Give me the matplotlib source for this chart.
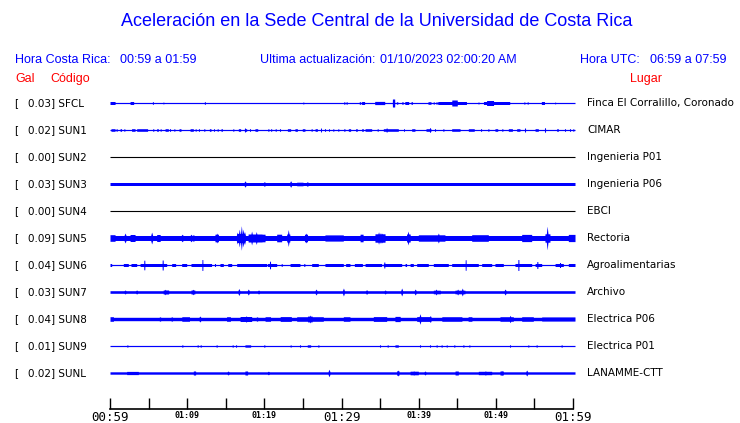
import numpy as np
import matplotlib
matplotlib.use("Agg")
import matplotlib.pyplot as plt

W, H = 740, 423
BLUE = "#0000ff"
RED = "#ff0000"

codes = ["SFCL", "SUN1", "SUN2", "SUN3", "SUN4", "SUN5", "SUN6", "SUN7", "SUN8", "SUN9", "SUNL"]
gal = [0.03, 0.02, 0.00, 0.03, 0.00, 0.09, 0.04, 0.03, 0.04, 0.01, 0.02]
places = ["Finca El Corralillo, Coronado", "CIMAR", "Ingenieria P01", "Ingenieria P06", "EBCI",
          "Rectoria", "Agroalimentarias", "Archivo", "Electrica P06", "Electrica P01", "LANAMME-CTT"]

# background half-amplitude of each trace (pixel-like units)
base_amp = [0.6, 0.6, 0.45, 1.5, 0.45, 2.5, 0.6, 1.3, 1.7, 0.6, 1.2]

# bursts: (start minute, end minute, half-amplitude)
ev_SFCL = [(0.0, 0.65, 1.5), (2.6, 3.07, 1.5), (5.5, 5.62, 1.3), (6.88, 6.95, 0.9), (12.25, 12.35, 1.3),
           (25.0, 25.1, 1.0), (30.33, 30.4, 1.3), (30.63, 30.7, 1.3), (32.3, 32.5, 1.3), (32.6, 33.0, 1.5),
           (34.3, 35.6, 1.6), (36.6, 36.9, 4.0), (37.1, 37.3, 1.2), (37.8, 38.0, 1.2), (38.2, 38.7, 1.5),
           (39.0, 39.2, 1.3), (41.2, 41.6, 1.3), (41.9, 42.0, 1.2), (42.2, 42.5, 1.0), (42.5, 46.2, 1.5),
           (44.3, 45.0, 3.0), (47.7, 47.8, 1.0), (48.4, 51.8, 1.5), (48.8, 49.7, 2.5), (53.65, 53.75, 1.2),
           (54.08, 54.18, 1.2), (55.9, 56.3, 1.5), (57.65, 57.72, 0.9)]
ev_SUN1 = [(0.13, 0.65, 1.3), (0.82, 0.9, 1.3), (1.3, 1.5, 1.3), (1.82, 1.9, 1.3), (2.8, 3.24, 1.3),
           (3.46, 4.88, 1.3), (5.57, 5.65, 1.3), (6.05, 6.26, 1.3), (6.53, 6.6, 1.3), (7.13, 7.56, 1.3),
           (7.74, 7.82, 1.3), (8.3, 8.38, 1.3), (8.94, 9.2, 1.3), (10.37, 10.8, 1.3), (11.06, 11.14, 1.3),
           (11.49, 11.57, 1.3), (12.18, 12.26, 1.3), (12.87, 13.09, 1.3), (13.44, 13.52, 1.3),
           (13.91, 13.99, 1.3), (14.38, 14.56, 1.3), (15.94, 16.02, 1.3), (16.63, 16.93, 1.3),
           (17.41, 17.71, 1.3), (17.45, 17.53, 2.0), (18.1, 18.18, 1.3), (18.79, 19.14, 1.3),
           (20.48, 20.56, 1.3), (20.82, 20.95, 1.3), (21.43, 21.51, 1.3), (21.99, 22.07, 1.3),
           (22.98, 23.41, 1.3), (23.97, 24.28, 1.3), (24.92, 25.27, 1.3), (26.09, 26.17, 1.3),
           (26.57, 26.87, 1.3), (27.3, 27.38, 2.0), (27.82, 27.9, 1.3), (28.34, 28.42, 1.3),
           (28.9, 28.98, 1.3), (29.55, 29.63, 1.3), (30.3, 30.45, 1.3), (30.89, 31.19, 1.3),
           (31.84, 32.05, 1.3), (32.61, 32.83, 1.3), (33.05, 33.91, 1.3), (34.65, 34.73, 1.3),
           (35.42, 37.37, 1.3), (35.8, 35.9, 2.0), (38.06, 38.14, 1.3), (39.09, 39.52, 1.3),
           (40.95, 41.6, 1.3), (41.43, 41.51, 2.2), (42.08, 42.16, 1.3), (43.16, 43.24, 1.3),
           (44.28, 45.36, 1.3), (46.44, 47.21, 1.3), (48.04, 48.12, 1.3), (48.99, 49.07, 1.3),
           (49.89, 50.24, 1.3), (50.8, 50.88, 1.3), (51.62, 52.14, 1.3), (52.7, 53.13, 1.3),
           (53.74, 53.82, 2.0), (55.08, 55.51, 1.3), (56.33, 56.41, 2.2), (57.88, 58.1, 1.3),
           (58.92, 59.0, 1.3), (59.57, 59.65, 1.3), (60.0, 60.08, 1.3)]
ev_SUN2 = [(8.0, 8.06, 0.9), (17.47, 17.53, 0.9), (35.6, 35.66, 0.9)]
ev_SUN3 = [(17.45, 17.55, 3.2), (19.95, 20.05, 2.3), (23.36, 23.46, 3.3), (24.2, 25.0, 1.8),
           (25.52, 25.62, 2.3)]
ev_SUN4 = []
ev_SUN5 = [(0.0, 0.65, 3.3), (1.9, 2.0, 5.0), (2.6, 3.24, 3.5), (5.35, 5.45, 6.0), (6.05, 6.5, 3.5),
           (9.3, 9.4, 3.8), (10.45, 10.55, 3.8), (10.75, 10.85, 3.3), (13.6, 14.05, 3.8),
           (13.78, 13.88, 5.0), (16.4, 17.5, 4.5), (16.45, 16.55, 6.0), (16.7, 16.8, 9.0),
           (16.97, 17.07, 12.5), (17.2, 17.3, 9.0), (17.38, 17.48, 6.5), (17.9, 19.7, 4.0),
           (18.3, 18.4, 7.0), (18.9, 19.0, 6.5), (19.65, 20.1, 3.8), (21.6, 22.25, 3.8),
           (22.9, 23.3, 4.0), (23.05, 23.15, 8.5), (25.2, 25.6, 3.8), (25.35, 25.45, 5.0),
           (27.86, 30.24, 3.1), (32.4, 32.8, 3.8), (34.34, 35.64, 4.2), (34.75, 34.85, 6.3),
           (35.0, 35.1, 5.5), (35.2, 35.3, 5.0), (38.44, 38.9, 4.0), (38.57, 38.67, 7.0),
           (39.96, 43.41, 3.2), (42.5, 42.6, 5.0), (46.87, 49.03, 3.3), (53.35, 54.64, 3.6),
           (56.37, 57.02, 4.2), (56.6, 56.7, 12.0), (59.4, 60.26, 3.6)]
ev_SUN6 = [(0.0, 0.22, 1.5), (1.73, 2.38, 1.5), (2.72, 3.46, 1.5), (3.89, 7.34, 1.5), (4.4, 4.5, 4.8),
           (6.78, 6.88, 5.0), (7.99, 8.51, 1.5), (9.29, 9.94, 1.5), (10.5, 13.17, 1.5), (11.92, 12.02, 5.5),
           (13.57, 13.65, 1.5), (14.25, 14.69, 1.5), (15.25, 15.77, 1.5), (16.41, 20.3, 1.5),
           (20.39, 21.6, 1.5), (20.68, 20.78, 3.8), (22.21, 22.29, 1.5), (23.33, 24.62, 1.5),
           (25.14, 25.22, 1.5), (26.13, 27.0, 1.5), (27.86, 30.24, 1.5), (30.54, 31.1, 1.5),
           (31.66, 32.7, 1.5), (33.05, 35.21, 1.5), (35.42, 37.8, 1.5), (35.5, 35.6, 3.0),
           (38.23, 38.44, 1.5), (38.88, 39.31, 1.5), (39.74, 41.25, 1.5), (41.9, 43.84, 1.5),
           (44.28, 47.73, 1.5), (46.04, 46.14, 5.3), (48.16, 49.46, 1.5), (49.89, 50.97, 1.5),
           (52.48, 54.64, 1.5), (52.87, 52.97, 5.5), (55.08, 55.94, 1.5), (55.33, 55.43, 3.5),
           (57.67, 58.75, 1.5), (58.27, 58.37, 2.5), (59.4, 60.26, 1.5)]
ev_SUN7 = [(1.9, 2.0, 2.0), (3.4, 3.5, 2.0), (6.9, 7.6, 2.0), (7.1, 7.2, 2.8), (10.5, 11.0, 2.0),
           (10.7, 10.8, 2.8), (16.65, 16.75, 3.5), (17.87, 17.97, 3.0), (19.2, 19.3, 2.0),
           (26.65, 26.75, 3.0), (30.2, 30.3, 4.0), (33.2, 33.3, 2.3), (35.6, 35.7, 2.0),
           (37.75, 37.85, 4.0), (39.5, 39.6, 3.0), (41.9, 42.8, 1.8), (42.2, 42.3, 3.0),
           (44.7, 46.0, 1.8), (45.0, 45.1, 3.0), (45.6, 45.7, 4.0), (51.15, 51.25, 3.0)]
ev_SUN8 = [(0.0, 0.45, 2.3), (6.4, 6.55, 2.3), (7.95, 8.05, 2.3), (9.3, 10.3, 2.3), (11.6, 11.7, 3.0),
           (15.1, 15.6, 2.3), (16.85, 18.36, 2.5), (17.6, 17.7, 3.3), (19.0, 19.1, 2.3),
           (20.1, 20.8, 2.3), (22.05, 23.5, 2.4), (24.2, 27.65, 2.3), (25.6, 26.2, 2.9),
           (25.85, 25.95, 4.0), (30.24, 31.1, 2.3), (34.13, 35.85, 2.4), (36.93, 37.6, 2.6),
           (39.74, 41.5, 2.4), (40.12, 40.22, 5.3), (41.45, 41.55, 3.5), (43.0, 45.6, 2.3),
           (46.4, 46.9, 2.3), (50.54, 52.27, 2.3), (51.8, 51.9, 3.7), (53.35, 54.86, 2.3),
           (55.94, 60.26, 2.1)]
ev_SUN9 = [(2.22, 2.28, 1.2), (9.34, 9.4, 1.2), (11.33, 11.39, 1.2), (11.72, 11.78, 1.2),
           (13.79, 13.85, 1.2), (15.87, 15.93, 1.2), (16.3, 16.36, 1.2), (17.49, 18.23, 1.2),
           (19.97, 20.03, 1.2), (23.38, 23.44, 1.2), (24.59, 24.65, 1.2), (25.57, 26.0, 1.2),
           (26.97, 27.03, 1.2), (34.96, 35.02, 1.2), (35.95, 36.01, 1.2), (36.93, 37.37, 1.2),
           (40.14, 40.2, 1.2), (41.44, 41.5, 1.2), (42.3, 42.36, 1.2), (42.95, 43.01, 1.2),
           (43.6, 43.66, 1.2), (44.59, 44.65, 1.2), (45.76, 45.82, 1.2), (46.54, 46.6, 1.2),
           (51.81, 51.87, 1.2), (54.18, 54.24, 1.2), (55.26, 55.32, 1.2), (58.5, 58.56, 1.2)]
ev_SUNL = [(2.16, 3.67, 1.6), (10.8, 11.1, 2.0), (15.25, 15.35, 2.0), (17.49, 17.84, 2.0),
           (20.48, 20.56, 1.8), (28.33, 28.43, 3.8), (37.15, 37.45, 2.2), (37.25, 37.35, 3.0),
           (38.88, 39.96, 1.8), (39.3, 39.4, 2.3), (40.78, 40.86, 2.0), (44.71, 45.14, 2.0),
           (47.73, 49.46, 1.7), (48.6, 48.7, 2.3), (50.54, 50.97, 2.0), (50.7, 50.8, 2.5),
           (53.95, 54.05, 3.0)]

events = [ev_SFCL, ev_SUN1, ev_SUN2, ev_SUN3, ev_SUN4, ev_SUN5, ev_SUN6, ev_SUN7, ev_SUN8, ev_SUN9, ev_SUNL]

tick_minutes = [0, 10, 20, 30, 40, 50, 60]
tick_labels = ["00:59", "01:09", "01:19", "01:29", "01:39", "01:49", "01:59"]
minor_minutes = [5, 15, 25, 35, 45, 55]

# drawing style per trace
tapered = {"SUN3", "SUN5", "SUN7", "SUN8", "SUNL"}
flat_dark = {"SUN2", "SUN4"}

fig = plt.figure(figsize=(W / 100, H / 100), dpi=100)
fig.patch.set_facecolor("white")

ax_left, ax_right, ax_top, ax_bot = 110, 573, 95, 409
ax = fig.add_axes([ax_left / W, (H - ax_bot) / H, (ax_right - ax_left) / W, (ax_bot - ax_top) / H])
row_px = 27.0
ylim_bottom = 10 + (ax_bot - (103 + 270)) / row_px
ylim_top = -(103 - ax_top) / row_px
ax.set_xlim(0, 60)
ax.set_ylim(ylim_bottom, ylim_top)

t = np.linspace(0, 60.26, 4000)
for i, code in enumerate(codes):
    b0 = base_amp[i]
    env = np.full_like(t, b0)
    for (a, b, amp) in events[i]:
        c = 0.5 * (a + b)
        hw = 0.5 * (b - a)
        if code in tapered and hw <= 0.1:
            hw = 0.13
            shape = np.clip(1 - np.abs(t - c) / hw, 0, 1)
            env = np.maximum(env, b0 + (amp - b0) * shape)
        else:
            hw = max(hw, 0.065)
            m = (t >= c - hw) & (t <= c + hw)
            env[m] = np.maximum(env[m], amp)
    if code in flat_dark:
        ax.plot([0, 60.26], [i, i], color="#000000", linewidth=0.8, clip_on=False,
                solid_capstyle="butt")
        env_e = np.where(env > b0, env, 0) / row_px
        ax.fill_between(t, i - env_e, i + env_e, where=env > b0, color=BLUE, linewidth=0,
                        clip_on=False)
    else:
        env = env / row_px
        ax.fill_between(t, i - env, i + env, color=BLUE, linewidth=0, clip_on=False)

for s in ["top", "left", "right"]:
    ax.spines[s].set_visible(False)
ax.spines["bottom"].set_linewidth(1.2)
ax.set_yticks([])
ax.set_xticks(tick_minutes)
ax.set_xticks(minor_minutes, minor=True)
ax.set_xticklabels(tick_labels)
ax.tick_params(axis="x", which="both", direction="in", length=8, width=1, pad=1.5)
for k, lab in enumerate(ax.get_xticklabels()):
    lab.set_fontfamily("DejaVu Sans Mono")
    if tick_minutes[k] % 30 == 0:
        lab.set_fontsize(9)
    else:
        lab.set_fontsize(6)
        lab.set_fontweight("bold")

def fx(px):
    return px / W

def fy(py):
    return 1 - py / H

fig.text(fx(377), fy(22), "Aceleración en la Sede Central de la Universidad de Costa Rica",
         color=BLUE, fontsize=13, family="Liberation Sans", ha="center", va="center")

hdr = dict(color=BLUE, fontsize=9, family="Liberation Sans", va="center")
fig.text(fx(15), fy(60), "Hora Costa Rica:", ha="left", **hdr)
fig.text(fx(120), fy(60), "00:59 a 01:59", ha="left", **hdr)
fig.text(fx(260), fy(60), "Ultima actualización:", ha="left", **hdr)
fig.text(fx(380), fy(60), "01/10/2023 02:00:20 AM", ha="left", **hdr)
fig.text(fx(580), fy(60), "Hora UTC:", ha="left", **hdr)
fig.text(fx(650), fy(60), "06:59 a 07:59", ha="left", **hdr)

red = dict(color=RED, fontsize=9, family="Liberation Sans", va="center")
fig.text(fx(15), fy(79), "Gal", ha="left", **red)
fig.text(fx(50), fy(79), "Código", ha="left", **red)
fig.text(fx(646), fy(79), "Lugar", ha="center", **red)

for i, code in enumerate(codes):
    yp = 103 + row_px * i
    fig.text(fx(14), fy(yp), "[", fontsize=7.5, family="DejaVu Sans", ha="left", va="center")
    fig.text(fx(27.5), fy(yp), f"{gal[i]:.2f}] {code}", fontsize=7.5, family="DejaVu Sans",
             ha="left", va="center")
    fig.text(fx(587), fy(yp), places[i], fontsize=7.5, family="DejaVu Sans", ha="left", va="center")

fig.savefig("out.png", dpi=100)
